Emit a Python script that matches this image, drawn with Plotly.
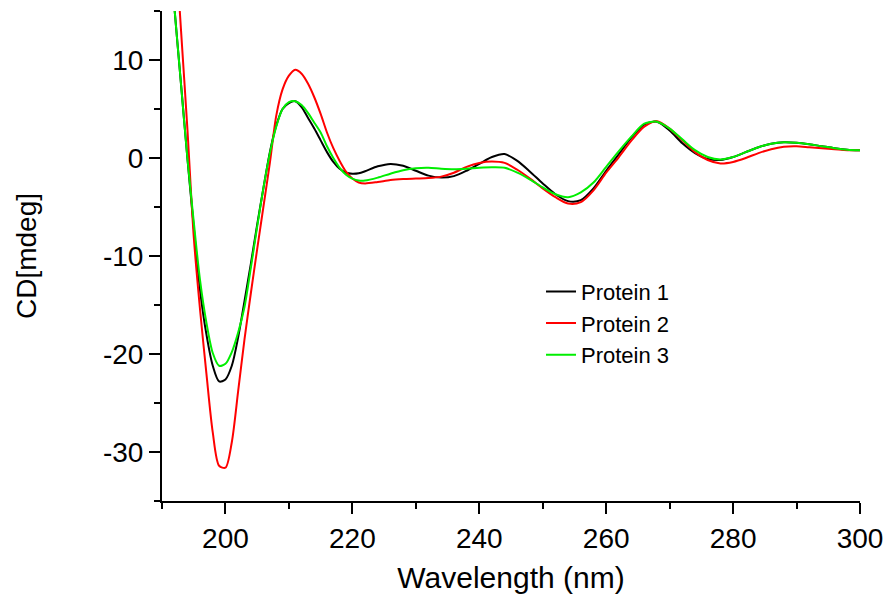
import plotly.graph_objects as go

# wavelength (nm): 1 nm steps through the sharp dip, 2 nm afterwards
wavelength = list(range(190, 223)) + list(range(224, 301, 2))

protein_1 = [
    31, 23, 15, 7.5, 0, -7, -13.5, -18.0, -21.2, -22.8,
    -22.6, -21.2, -18.3, -14.6, -10.8, -6.8, -3.0, 0.6, 3.3, 5.0,
    5.6, 5.8, 5.2, 4.1, 3.0, 1.8, 0.6, -0.4, -1.1, -1.5,
    -1.6, -1.55, -1.35,
    -0.85, -0.6, -0.8, -1.3, -1.8, -2.0, -1.85, -1.3, -0.6, 0.1,
    0.4, -0.3, -1.4, -2.6, -3.7, -4.4, -4.3, -3.1, -1.3, 0.4,
    2.1, 3.4, 3.7, 2.8, 1.5, 0.5, -0.1, -0.2, 0.1, 0.6,
    1.1, 1.45, 1.6, 1.55, 1.4, 1.2, 1.0, 0.85, 0.8,
]

protein_2 = [
    40, 32, 23, 13, 3, -8, -15.5, -22, -28.0, -31.4,
    -31.6, -29.0, -23.8, -18.5, -13.8, -9.3, -4.9, -0.5, 4.3, 7.0,
    8.4, 9.0, 8.6, 7.6, 6.2, 4.5, 2.6, 1.0, -0.3, -1.4,
    -2.1, -2.5, -2.6,
    -2.45, -2.25, -2.15, -2.1, -2.05, -1.9, -1.5, -0.9, -0.5, -0.35,
    -0.5, -1.2, -2.1, -3.1, -4.0, -4.65, -4.5, -3.3, -1.5, 0.1,
    1.8, 3.2, 3.75, 3.0, 1.8, 0.6, -0.2, -0.55, -0.4, 0.0,
    0.5, 0.9, 1.15, 1.2, 1.1, 1.0, 0.9, 0.8, 0.8,
]

protein_3 = [
    31, 23, 15, 7.5, 0, -6.5, -12.5, -16.8, -19.9, -21.2,
    -21.0, -19.8, -17.8, -15.2, -11.2, -7.0, -3.0, 0.5, 3.2, 5.0,
    5.7, 5.8, 5.4, 4.6, 3.6, 2.6, 1.2, 0.0, -1.0, -1.7,
    -2.1, -2.3, -2.3,
    -2.0, -1.6, -1.25, -1.05, -1.0, -1.1, -1.15, -1.1, -1.0, -0.95,
    -1.0, -1.5, -2.2, -3.0, -3.7, -4.0, -3.5, -2.5, -0.9, 0.7,
    2.2, 3.5, 3.7, 3.0, 1.9, 0.8, 0.1, -0.15, 0.1, 0.6,
    1.1, 1.45, 1.6, 1.55, 1.4, 1.2, 1.0, 0.85, 0.8,
]

y_ticks = [-30, -20, -10, 0, 10]
y_tick_labels = ["-30", "-20", "-10", "0", "10"]

series = [
    ("Protein 1", protein_1, "black"),
    ("Protein 2", protein_2, "#ff0000"),
    ("Protein 3", protein_3, "#00ee00"),
]

fig = go.Figure()
for name, values, color in series:
    fig.add_trace(go.Scatter(
        x=wavelength,
        y=values,
        name=name,
        mode="lines",
        line=dict(color=color, width=2, shape="spline", smoothing=0.8),
    ))

font = "Liberation Sans, Arial, sans-serif"

fig.update_layout(
    width=891,
    height=594,
    margin=dict(l=162, r=31, t=11, b=93),
    paper_bgcolor="white",
    plot_bgcolor="white",
    font=dict(family=font, color="black"),
    showlegend=True,
    legend=dict(
        x=0.543, y=0.47, xanchor="left", yanchor="top",
        font=dict(size=22, family=font),
        bgcolor="rgba(0,0,0,0)",
        tracegroupgap=0,
    ),
)

fig.update_xaxes(
    range=[190, 300],
    tick0=200, dtick=20,
    ticks="outside", ticklen=11, tickwidth=2, tickcolor="black",
    minor=dict(dtick=10, ticks="outside", ticklen=6, tickwidth=2, tickcolor="black"),
    showline=True, linecolor="black", linewidth=2,
    showgrid=False, zeroline=False, automargin=False,
    tickfont=dict(size=28),
    title=dict(text="Wavelength (nm)", font=dict(size=30), standoff=22),
)

fig.update_yaxes(
    range=[-35, 15],
    tickmode="array", tickvals=y_ticks, ticktext=y_tick_labels,
    ticks="outside", ticklen=11, tickwidth=2, tickcolor="black",
    minor=dict(tick0=0, dtick=5, ticks="outside", ticklen=6, tickwidth=2, tickcolor="black"),
    showline=True, linecolor="black", linewidth=2,
    showgrid=False, zeroline=False, automargin=False,
    tickfont=dict(size=28),
    title=dict(text="CD[mdeg]", font=dict(size=28), standoff=58),
)

fig.write_html(
    "out.html",
    config={"displayModeBar": False},
    post_script="document.body.style.margin='0px';",
)
